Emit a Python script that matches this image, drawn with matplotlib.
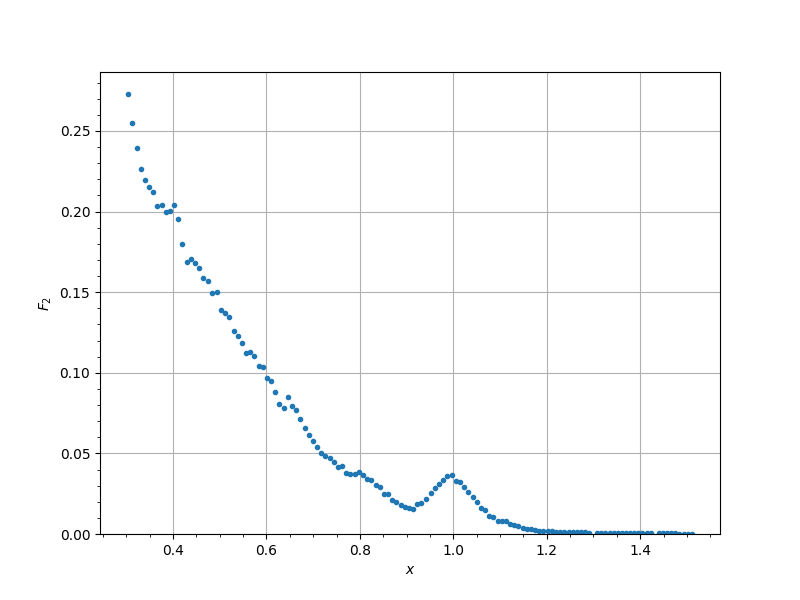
import numpy as np
import matplotlib
matplotlib.use('Agg')
import matplotlib.pyplot as plt

# values
x = [0.304, 0.3125, 0.3232, 0.3318, 0.3404, 0.349, 0.3576, 0.3662, 0.377, 0.3856,
     0.3942, 0.4028, 0.4114, 0.42, 0.4308, 0.4394, 0.448, 0.4566, 0.4652, 0.4759,
     0.4845, 0.4931, 0.5017, 0.5103, 0.5189, 0.5297, 0.5383, 0.5469, 0.5555, 0.5641,
     0.5727, 0.5834, 0.592, 0.6006, 0.6092, 0.6178, 0.6265, 0.6372, 0.6458, 0.6544,
     0.663, 0.6716, 0.6824, 0.691, 0.6996, 0.7082, 0.7168, 0.7254, 0.7361, 0.7447,
     0.7533, 0.7619, 0.7705, 0.7791, 0.7899, 0.7985, 0.8071, 0.8157, 0.8243, 0.8351,
     0.8437, 0.8523, 0.8609, 0.8695, 0.8781, 0.8888, 0.8974, 0.906, 0.9146, 0.9232,
     0.9318, 0.9426, 0.9512, 0.9598, 0.9684, 0.977, 0.9856, 0.9963, 1.0049, 1.0135,
     1.0221, 1.0307, 1.0415, 1.0501, 1.0587, 1.0673, 1.0759, 1.0845, 1.0953, 1.1039,
     1.1125, 1.1211, 1.1297, 1.1383, 1.149, 1.1576, 1.1662, 1.1748, 1.1834, 1.192,
     1.2028, 1.2114, 1.22, 1.2286, 1.2372, 1.2479, 1.2565, 1.2651, 1.2737, 1.2823,
     1.2909,
     1.3082, 1.317, 1.3258, 1.3346, 1.3434, 1.3522, 1.361, 1.3698, 1.3786, 1.3874,
     1.3962, 1.405, 1.4138, 1.4226,
     1.4402, 1.449, 1.4578, 1.4666, 1.4754, 1.4842, 1.493, 1.5018, 1.5106]

F2 = [0.2729, 0.2550, 0.2392, 0.2263, 0.2193, 0.2149, 0.2118, 0.2037, 0.2043, 0.1999,
      0.2006, 0.2043, 0.1956, 0.1796, 0.1690, 0.1706, 0.1683, 0.1650, 0.1588, 0.1571,
      0.1494, 0.1501, 0.1390, 0.1370, 0.1345, 0.1257, 0.1226, 0.1183, 0.1120, 0.1127,
      0.1102, 0.1039, 0.1033, 0.0965, 0.0946, 0.0883, 0.0809, 0.0784, 0.0852, 0.0796,
      0.0771, 0.0715, 0.0659, 0.0615, 0.0578, 0.0541, 0.0503, 0.0484, 0.0472, 0.0447,
      0.0416, 0.0422, 0.0378, 0.0372, 0.0372, 0.0385, 0.0366, 0.0341, 0.0335, 0.0304,
      0.0291, 0.0248, 0.0248, 0.0210, 0.0198, 0.0179, 0.0167, 0.0160, 0.0154, 0.0186,
      0.0191, 0.0216, 0.0254, 0.0285, 0.0310, 0.0335, 0.0360, 0.0366, 0.0329, 0.0322,
      0.0291, 0.0260, 0.0229, 0.0198, 0.0160, 0.0148, 0.0110, 0.0104, 0.0079, 0.0079,
      0.0079, 0.0060, 0.0054, 0.0048, 0.0036, 0.0029, 0.0029, 0.0023, 0.0017, 0.0017,
      0.0017, 0.0017, 0.0015, 0.0015, 0.0012, 0.0012, 0.0010, 0.0010, 0.0010, 0.0010,
      0.0008,
      0.0008, 0.0008, 0.0007, 0.0007, 0.0007, 0.0006, 0.0006, 0.0006, 0.0006, 0.0005,
      0.0005, 0.0005, 0.0005, 0.0005,
      0.0005, 0.0004, 0.0004, 0.0004, 0.0004, 0.0003, 0.0003, 0.0003, 0.0003]

plt.figure(figsize=(8, 6), dpi=100)
plt.plot(x, F2, '.')
plt.ylim(bottom=0)
plt.minorticks_on()
plt.grid(which='major')
plt.xlabel('$x$')
plt.ylabel('$F_2$')
plt.savefig('out.png', dpi=100)
